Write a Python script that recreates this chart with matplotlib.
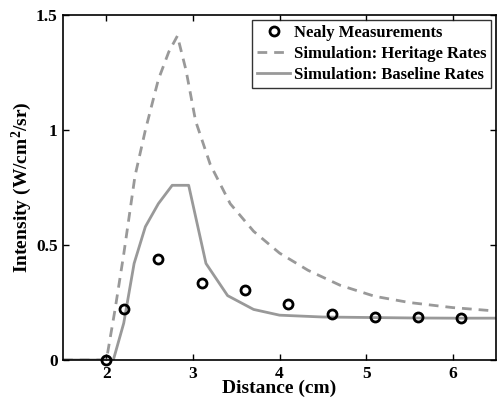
import matplotlib.pyplot as plt
import numpy as np

plt.rcParams['font.family'] = ['Liberation Serif', 'DejaVu Serif']
plt.rcParams['font.weight'] = 'bold'
plt.rcParams['mathtext.fontset'] = 'custom'
plt.rcParams['mathtext.rm'] = 'Liberation Serif:bold'
plt.rcParams['mathtext.default'] = 'rm'

# Nealy measurements
meas_x = [2.0, 2.2, 2.6, 3.1, 3.6, 4.1, 4.6, 5.1, 5.6, 6.1]
meas_y = [0.0, 0.22, 0.44, 0.333, 0.303, 0.242, 0.199, 0.188, 0.186, 0.184]

# simulation: heritage rates
herit_x = [1.5, 2.0, 2.1, 2.2, 2.33, 2.45, 2.6, 2.72, 2.82, 2.92, 3.03, 3.2,
           3.43, 3.7, 4.0, 4.33, 4.7, 5.1, 5.5, 6.0, 6.5]
herit_y = [0.0, 0.0, 0.22, 0.46, 0.8, 1.0, 1.22, 1.34, 1.41, 1.26, 1.04, 0.85,
           0.68, 0.56, 0.465, 0.39, 0.325, 0.277, 0.25, 0.228, 0.213]

# simulation: baseline rates
base_x = [1.5, 2.08, 2.2, 2.32, 2.45, 2.6, 2.76, 2.95, 3.15, 3.4, 3.7, 4.0,
          4.5, 5.0, 5.5, 6.0, 6.5]
base_y = [0.0, 0.0, 0.16, 0.42, 0.58, 0.68, 0.76, 0.76, 0.42, 0.28, 0.22, 0.195,
          0.187, 0.185, 0.183, 0.182, 0.182]

fig = plt.figure(figsize=(4.97, 4.0), dpi=100)
ax = fig.add_axes([0.127, 0.1, 0.871, 0.862])

gray = '#999999'
ax.plot(meas_x, meas_y, 'o', mfc='none', mec='black', mew=2, ms=6.5,
        label='Nealy Measurements', zorder=3, clip_on=False)
ax.plot(herit_x, herit_y, '--', color=gray, lw=2, dashes=(3.5, 2.5),
        label='Simulation: Heritage Rates')
ax.plot(base_x, base_y, '-', color=gray, lw=2,
        label='Simulation: Baseline Rates')

ax.set_xlim(1.5, 6.5)
ax.set_ylim(0, 1.5)
ax.set_xticks([2, 3, 4, 5, 6])
ax.set_yticks([0, 0.5, 1, 1.5])
ax.set_yticklabels(['0', '0.5', '1', '1.5'])
ax.tick_params(direction='in', top=True, right=True, length=4, width=1,
               labelsize=12.5, pad=4)
for s in ax.spines.values():
    s.set_linewidth(1.2)

ax.set_xlabel('Distance (cm)', fontsize=14, fontweight='bold', labelpad=-1)
ax.set_ylabel('Intensity (W/cm$^2$/sr)', fontsize=14, fontweight='bold', labelpad=1)

leg = ax.legend(loc='upper right', fontsize=12, frameon=True, fancybox=False,
                handlelength=2.0, handletextpad=0.2, borderpad=0.3,
                labelspacing=0.3, borderaxespad=0.3)
leg.get_frame().set_edgecolor('black')
leg.get_frame().set_linewidth(1)

fig.savefig('out.png', dpi=100)
